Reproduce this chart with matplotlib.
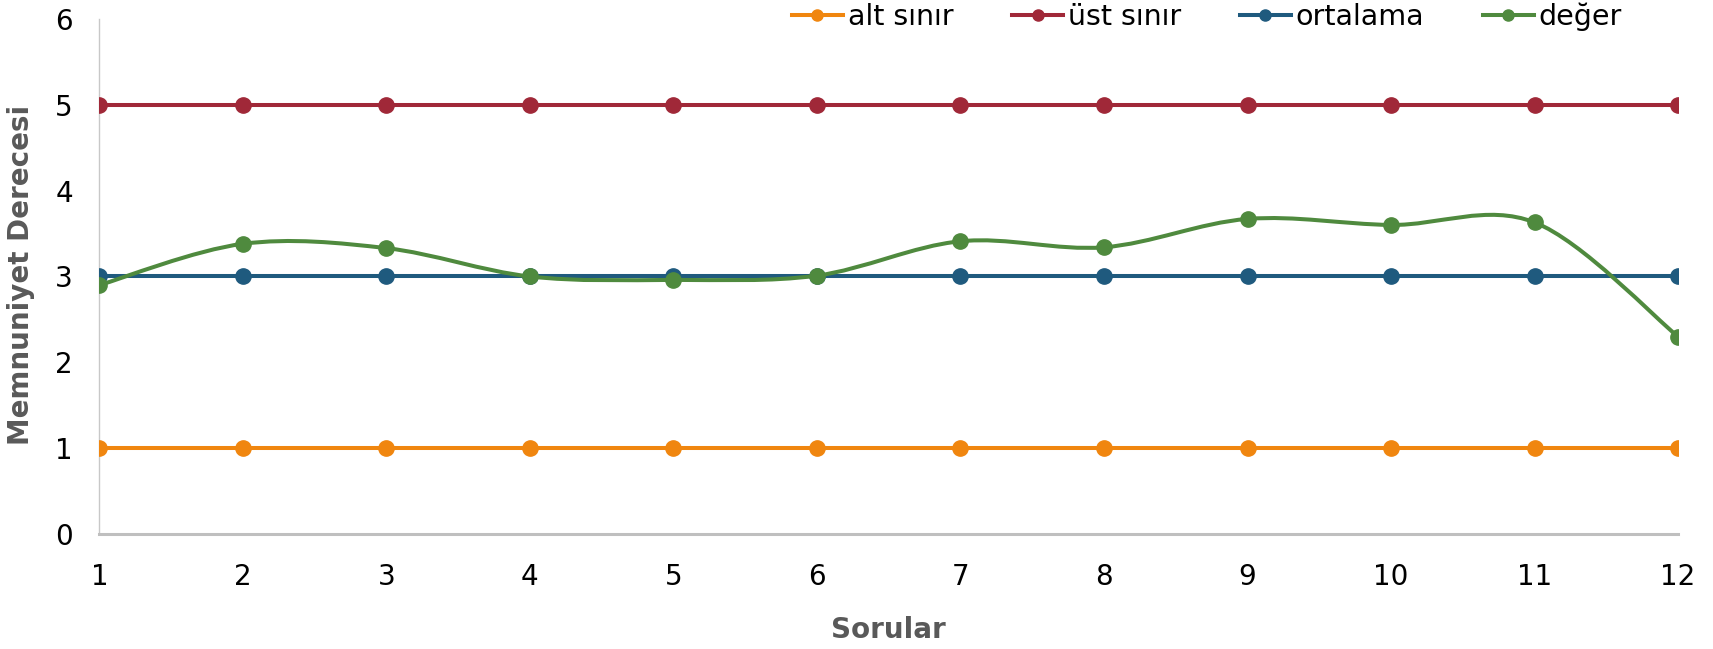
import numpy as np
import matplotlib.pyplot as plt
from matplotlib.path import Path
from matplotlib.patches import PathPatch
from matplotlib.lines import Line2D

sorular = [1, 2, 3, 4, 5, 6, 7, 8, 9, 10, 11, 12]
alt_sinir = [1, 1, 1, 1, 1, 1, 1, 1, 1, 1, 1, 1]
ust_sinir = [5, 5, 5, 5, 5, 5, 5, 5, 5, 5, 5, 5]
ortalama = [3, 3, 3, 3, 3, 3, 3, 3, 3, 3, 3, 3]
deger = [2.90, 3.38, 3.33, 3.00, 2.96, 3.01, 3.41, 3.34, 3.67, 3.60, 3.63, 2.30]

c_alt = '#F0860F'
c_ust = '#A02838'
c_ort = '#1F5A7E'
c_deg = '#4F8A3E'

plt.rcParams['font.family'] = ['DejaVu Sans']

fig = plt.figure(figsize=(17.13, 6.49), dpi=100)
ax = fig.add_axes([0.058, 0.177, 0.9216, 0.794])

lw = 2.9
ms = 11

ax.plot(sorular, alt_sinir, color=c_alt, lw=lw, marker='o', ms=ms, zorder=3)
ax.plot(sorular, ust_sinir, color=c_ust, lw=lw, marker='o', ms=ms, zorder=3)
ax.plot(sorular, ortalama, color=c_ort, lw=lw, marker='o', ms=ms, zorder=3)


# smooth line like Excel (Catmull-Rom as cubic Bezier)
def smooth_path(x, y):
    pts = np.column_stack([x, y]).astype(float)
    verts = [pts[0]]
    codes = [Path.MOVETO]
    n = len(pts)
    for i in range(n - 1):
        p0 = pts[i - 1] if i > 0 else pts[i]
        p1 = pts[i]
        p2 = pts[i + 1]
        p3 = pts[i + 2] if i + 2 < n else pts[i + 1]
        c1 = p1 + (p2 - p0) / 6.0
        c2 = p2 - (p3 - p1) / 6.0
        verts += [c1, c2, p2]
        codes += [Path.CURVE4] * 3
    return Path(verts, codes)


ax.add_patch(PathPatch(smooth_path(sorular, deger), fc='none', ec=c_deg, lw=lw,
                       zorder=4, capstyle='round'))
ax.plot(sorular, deger, ls='none', color=c_deg, marker='o', ms=ms, zorder=5)

ax.set_xlim(1, 12)
ax.set_ylim(0, 6)
ax.set_xticks(sorular)
ax.set_yticks(range(0, 7))
ax.tick_params(length=0, labelsize=20)
ax.tick_params(axis='x', pad=21)
ax.tick_params(axis='y', pad=19)

for s in ['top', 'right']:
    ax.spines[s].set_visible(False)
ax.spines['left'].set_color('#C8C8C8')
ax.spines['left'].set_linewidth(1)
ax.spines['bottom'].set_color('#BFBFBF')
ax.spines['bottom'].set_linewidth(2.2)

fig.text(0.5185, 0.029, 'Sorular', fontsize=20, fontweight='bold', color='#595959',
         ha='center', va='center')
fig.text(0.012, 0.576, 'Memnuniyet Derecesi', fontsize=20, fontweight='bold',
         color='#595959', ha='center', va='center', rotation=90)

handles = [
    Line2D([], [], color=c_alt, lw=lw, marker='o', ms=8),
    Line2D([], [], color=c_ust, lw=lw, marker='o', ms=8),
    Line2D([], [], color=c_ort, lw=lw, marker='o', ms=8),
    Line2D([], [], color=c_deg, lw=lw, marker='o', ms=8),
]
fig.legend(handles, ['alt sınır', 'üst sınır', 'ortalama', 'değer'],
           loc='center right', bbox_to_anchor=(0.947, 0.974), ncol=4,
           frameon=False, fontsize=20.5, handlelength=1.8, handletextpad=0.17,
           columnspacing=2.05, borderpad=0, borderaxespad=0)

fig.savefig('out.png', dpi=100)
